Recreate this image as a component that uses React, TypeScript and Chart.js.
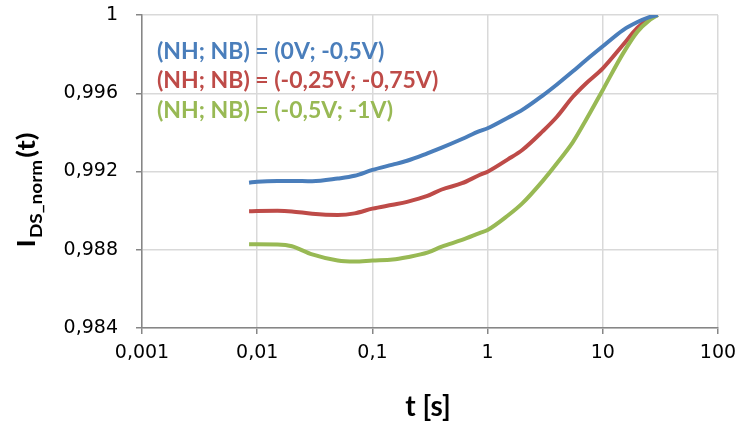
import React, { useEffect, useRef } from "react";
import { Chart, registerables } from "chart.js";

Chart.register(...registerables);

const times = [0.0085, 0.01, 0.015, 0.02, 0.03, 0.05, 0.07, 0.1, 0.15, 0.2, 0.3, 0.4, 0.6, 0.85, 1, 1.5, 2, 3, 4, 5.5, 7, 10, 15, 20, 25, 30];

const blueValues = [0.99143, 0.99148, 0.99152, 0.99152, 0.9915, 0.99164, 0.99178, 0.99208, 0.99235, 0.99255, 0.99293, 0.99322, 0.99366, 0.99406, 0.99421, 0.99475, 0.99515, 0.99588, 0.99645, 0.99712, 0.99765, 0.9984, 0.99923, 0.99964, 0.99988, 1.0];
const redValues = [0.98997, 0.98998, 0.98999, 0.98996, 0.98984, 0.98978, 0.98986, 0.9901, 0.9903, 0.99045, 0.99075, 0.99108, 0.9914, 0.99182, 0.99199, 0.99262, 0.9931, 0.99405, 0.9948, 0.99582, 0.99645, 0.99727, 0.99848, 0.99935, 0.9998, 1.0];
const greenValues = [0.98828, 0.98828, 0.98827, 0.98818, 0.98776, 0.98745, 0.9874, 0.98745, 0.9875, 0.98762, 0.98785, 0.98816, 0.9885, 0.98885, 0.98901, 0.98975, 0.99037, 0.99151, 0.99242, 0.9935, 0.99454, 0.99617, 0.99804, 0.99915, 0.9997, 1.0];

const seriesLabels = ["(NH; NB) = (0V; -0,5V)", "(NH; NB) = (-0,25V; -0,75V)", "(NH; NB) = (-0,5V; -1V)"];
const seriesColors = ["#4A7EBB", "#BE4B48", "#98B954"];

const xTicks = [0.001, 0.01, 0.1, 1, 10, 100];
const yMin = 0.984;
const yMax = 1;
const yStep = 0.004;

const FONT = "Lato, 'Open Sans', sans-serif";
const TICK_FONT = "'DejaVu Sans', sans-serif";

const fmt = (v: number) => String(Number(Number(v).toFixed(4))).replace(".", ",");

const overlayPlugin = {
  id: "overlay",
  afterDraw(chart: any) {
    const ctx = chart.ctx as CanvasRenderingContext2D;
    ctx.save();
    // legend texts
    ctx.font = `bold 23px ${FONT}`;
    ctx.textBaseline = "middle";
    ctx.textAlign = "left";
    const ys = [52, 81, 111];
    seriesLabels.forEach((t, i) => {
      ctx.fillStyle = seriesColors[i];
      ctx.fillText(t, 157, ys[i]);
    });
    // x title
    ctx.fillStyle = "#000";
    ctx.font = `bold 28px ${FONT}`;
    ctx.textAlign = "center";
    ctx.textBaseline = "alphabetic";
    ctx.fillText("t [s]", 428, 416);
    // y title with subscript
    ctx.translate(35, 190);
    ctx.rotate(-Math.PI / 2);
    const bigFont = `bold 25px ${FONT}`;
    const subFont = `bold 17px ${FONT}`;
    ctx.font = bigFont;
    const wI = ctx.measureText("I").width;
    const wT = ctx.measureText("(t)").width;
    ctx.font = subFont;
    const wS = ctx.measureText("DS_norm").width;
    const total = wI + wS + wT + 3;
    const k = 115 / total;
    ctx.scale(k, 1);
    let x = -total / 2;
    ctx.textAlign = "left";
    ctx.font = bigFont;
    ctx.fillText("I", x, 0);
    x += wI + 1;
    ctx.font = subFont;
    ctx.fillText("DS_norm", x, 7);
    x += wS + 2;
    ctx.font = bigFont;
    ctx.fillText("(t)", x, 0);
    ctx.restore();
  },
};

export default function App() {
  const ref = useRef<HTMLCanvasElement>(null);
  useEffect(() => {
    if (!ref.current) return;
    const mk = (vals: number[]) => times.map((t, i) => ({ x: t, y: vals[i] }));
    const chart = new Chart(ref.current, {
      type: "line",
      data: {
        datasets: [
          { label: seriesLabels[1], data: mk(redValues), borderColor: seriesColors[1], order: 3 },
          { label: seriesLabels[2], data: mk(greenValues), borderColor: seriesColors[2], order: 2 },
          { label: seriesLabels[0], data: mk(blueValues), borderColor: seriesColors[0], order: 1 },
        ].map((d) => ({ ...d, borderWidth: 4, pointRadius: 0, fill: false, cubicInterpolationMode: "monotone" as const })),
      },
      options: {
        responsive: false,
        animation: false,
        layout: { padding: { top: 15, right: 21, left: 0, bottom: 0 } },
        plugins: { legend: { display: false }, tooltip: { enabled: false } },
        scales: {
          x: {
            type: "logarithmic",
            min: 0.001,
            max: 100,
            afterBuildTicks: (s: any) => {
              s.ticks = xTicks.map((v) => ({ value: v }));
            },
            afterFit: (s: any) => {
              s.height = 97;
              s.paddingLeft = 0;
              s.paddingRight = 0;
            },
            ticks: {
              callback: (v: any) => fmt(v),
              font: { family: TICK_FONT, size: 19 },
              color: "#000",
              padding: 8,
              autoSkip: false,
              maxRotation: 0,
            },
            grid: { color: "#D9D9D9", lineWidth: 1.5, tickLength: 6, tickColor: "#868686" },
            border: { color: "#868686", width: 1.5 },
          },
          y: {
            type: "linear",
            min: yMin,
            max: yMax,
            afterFit: (s: any) => {
              s.width = 142;
              s.paddingTop = 0;
              s.paddingBottom = 0;
            },
            ticks: {
              stepSize: yStep,
              callback: (v: any) => fmt(v),
              font: { family: TICK_FONT, size: 19 },
              color: "#000",
              padding: 18,
            },
            grid: { color: "#D9D9D9", lineWidth: 1.5, tickLength: 6, tickColor: "#868686" },
            border: { color: "#868686", width: 1.5 },
          },
        },
      },
      plugins: [overlayPlugin],
    });
    return () => chart.destroy();
  }, []);
  return (
    <div style={{ position: "fixed", left: 0, top: 0, width: 739, height: 425, background: "#fff" }}>
      <canvas ref={ref} width={739} height={425} style={{ width: 739, height: 425 }} />
    </div>
  );
}
